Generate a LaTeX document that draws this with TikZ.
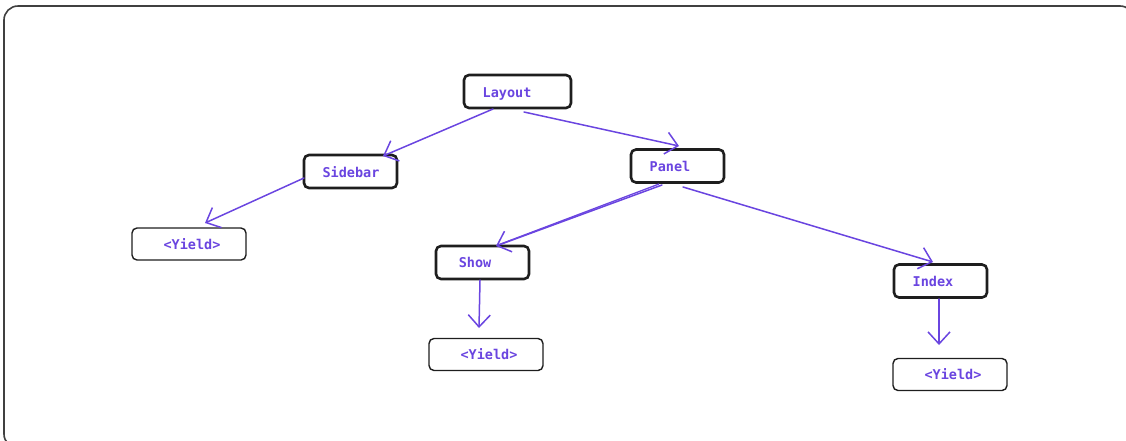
\documentclass[tikz,border=0pt]{standalone}
\usepackage{fontspec}
\setmonofont{DejaVu Sans Mono}
\usetikzlibrary{arrows.meta,calc}
\definecolor{ink}{HTML}{1E1E1E}
\definecolor{violet}{HTML}{6A45E0}
\tikzset{
  x=1pt, y=-1pt,
  box/.style={draw=ink, line width=2.6pt, rounded corners=5pt, fill=white,
    minimum width=#1, minimum height=33pt, inner sep=0pt},
  box/.default=93pt,
  leaf/.style={draw=ink, line width=1.4pt, rounded corners=5pt, fill=white,
    minimum width=114pt, minimum height=32pt, inner sep=0pt},
  lbl/.style={text=violet, font=\ttfamily\bfseries\fontsize{13.5}{15}\selectfont, inner sep=0pt, anchor=base},
  link/.style={draw=violet, line width=1.5pt, line cap=round,
    -{Straight Barb[length=12pt, width=22pt, line width=1.5pt]}},
}
\begin{document}
\begin{tikzpicture}
\useasboundingbox (0,0) rectangle (1126,440);
% outer frame
\draw[ink!85, line width=1.6pt, rounded corners=14pt] (4,6) rectangle (1134,448);

% boxes
\node[box=107pt] (layout) at (517.5,91.5) {};
\node[box] (sidebar) at (350.5,171.5) {};
\node[box] (panel) at (677.5,166) {};
\node[box] (show) at (482.5,262.5) {};
\node[box] (index) at (940.5,281) {};
\node[leaf] (y1) at (189,244) {};
\node[leaf] (y2) at (486,354.5) {};
\node[leaf] (y3) at (950,374.5) {};

% labels
\node[lbl] (tlayout) at (507,97) {Layout};
\node[lbl] (tsidebar) at (351,177) {Sidebar};
\node[lbl] (tpanel) at (670,171) {Panel};
\node[lbl] (tshow) at (475,267) {Show};
\node[lbl] (tindex) at (933,286) {Index};
\node[lbl] (ty1) at (192,249) {<Yield>};
\node[lbl] (ty2) at (489,359) {<Yield>};
\node[lbl] (ty3) at (953,379) {<Yield>};

% connector end points
\coordinate (a1) at (493,109);  \coordinate (b1) at (383,156);
\coordinate (a2) at (524,112);  \coordinate (b2) at (679,146);
\coordinate (a3) at (304,178);  \coordinate (b3) at (205,223);
\coordinate (a4) at (662,185);  \coordinate (b4) at (496,246);
\coordinate (a5) at (683,187);  \coordinate (b5) at (933,262);
\coordinate (a6) at (480,280);  \coordinate (b6) at (479,328);
\coordinate (a7) at (939,299);  \coordinate (b7) at (939,345);

\draw[link] (a1) -- (b1);
\draw[link] (a2) -- (b2);
\draw[link] (a3) -- (b3);
\draw[link] (a4) -- (b4);
\draw[violet, line width=1.3pt] ($(a4)+(-3,-1)$) -- ($(b4)+(2,-1)$);
\draw[link] (a5) -- (b5);
\draw[link] (a6) -- (b6);
\draw[link] (a7) -- (b7);
\end{tikzpicture}
\end{document}
